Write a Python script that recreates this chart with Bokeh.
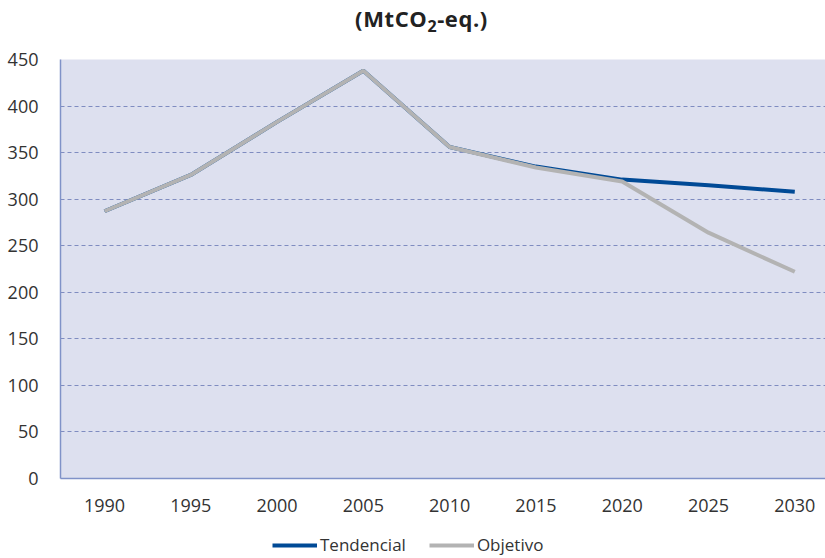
from bokeh.plotting import figure
from bokeh.layouts import column
from bokeh.models import Range1d, FixedTicker, Legend, LegendItem, Div
from bokeh.embed import file_html
from bokeh.resources import INLINE

years = [1990, 1995, 2000, 2005, 2010, 2015, 2020, 2025, 2030]
tendencial = [287, 326, 383, 438, 356, 335, 321, 315, 308]
objetivo = [287, 326, 383, 438, 356, 334, 319, 264, 222]
y_ticks = [0, 50, 100, 150, 200, 250, 300, 350, 400, 450]
title_html = "(MtCO<sub style='font-size:16px; vertical-align:-5px'>2</sub>-eq.)"
series_names = ["Tendencial", "Objetivo"]

FONT = "Open Sans"
BLUE = "#004A96"
GRAY = "#B3B3B3"

title = Div(text=title_html, width=825, height=30,
            styles={"font-family": FONT, "font-size": "22px", "font-weight": "bold",
                    "color": "#222222", "text-align": "center", "line-height": "26px",
                    "letter-spacing": "0.6px", "width": "825px", "padding-left": "8px"})

p = figure(width=825, height=475, output_backend="svg", toolbar_location=None,
           x_range=Range1d(1987.45, 2031.78), y_range=Range1d(0, 450),
           min_border_left=60, min_border_right=0, min_border_top=19, min_border_bottom=37)
p.background_fill_color = "#DDE0EF"
p.border_fill_color = "white"
p.outline_line_color = None

p.xaxis.ticker = FixedTicker(ticks=years)
p.yaxis.ticker = FixedTicker(ticks=y_ticks)
for ax in (p.xaxis, p.yaxis):
    ax.major_tick_line_color = None
    ax.minor_tick_line_color = None
    ax.axis_line_color = "#8092C8"
    ax.axis_line_width = 1.5
    ax.major_label_text_font = FONT
    ax.major_label_text_font_size = "18px"
    ax.major_label_text_color = "#333333"
p.xaxis.major_label_standoff = 14
p.yaxis.major_label_standoff = 16

p.xgrid.grid_line_color = None
p.ygrid.grid_line_color = "#7F8CC0"
p.ygrid.grid_line_dash = "4 3"
p.ygrid.grid_line_width = 1

p.line(years, tendencial, line_color=BLUE, line_width=4)
p.line(years, objetivo, line_color=GRAY, line_width=4)

# legend strip below the chart (lines drawn outside its view, only the legend shows)
lg = figure(width=825, height=43, output_backend="svg", toolbar_location=None,
            x_range=Range1d(0, 1), y_range=Range1d(0, 1),
            min_border=0)
lg.axis.visible = False
lg.grid.grid_line_color = None
lg.outline_line_color = None
lg.background_fill_color = "white"
l1 = lg.line(years, tendencial, line_color=BLUE, line_width=4)
l2 = lg.line(years, objetivo, line_color=GRAY, line_width=4)

legend = Legend(items=[LegendItem(label=series_names[0], renderers=[l1]),
                       LegendItem(label=series_names[1], renderers=[l2])],
                orientation="horizontal", location=(212, 2),
                label_text_font=FONT, label_text_font_size="17px",
                label_text_color="#333333", glyph_width=45, glyph_height=20,
                label_standoff=3, spacing=23, padding=0, margin=0,
                border_line_color=None, background_fill_alpha=0)
lg.add_layout(legend, "center")

layout = column(title, p, lg, spacing=0)
open("out.html", "w").write(file_html(layout, INLINE))
